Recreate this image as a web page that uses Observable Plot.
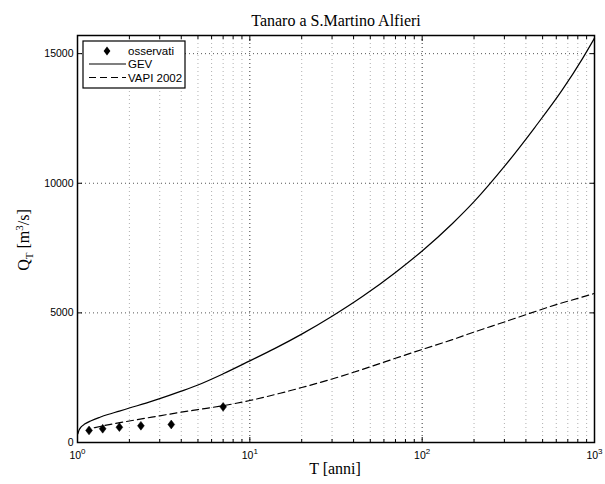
<!DOCTYPE html>
<html><head><meta charset="utf-8">
<script src="https://cdn.jsdelivr.net/npm/d3@7"></script>
<script src="https://cdn.jsdelivr.net/npm/@observablehq/plot@0.6"></script>
<style>body{margin:0;background:#fff}</style>
</head><body><div id="chart"></div>
<script>
// Observed (Weibull plotting positions)
const obsT = [1.1667, 1.4, 1.75, 2.333, 3.5, 7];
const obsQ = [465, 530, 590, 645, 695, 1375];
// GEV curve
const gevT = [1.005, 1.02, 1.05, 1.1, 1.2, 1.35, 1.5, 1.75, 2, 2.5, 3, 4, 5, 7, 10, 14, 20, 30, 45, 70, 100, 150, 200, 300, 450, 650, 850, 1000];
const gevQ = [330, 470, 600, 710, 840, 975, 1080, 1210, 1330, 1520, 1690, 1980, 2220, 2650, 3150, 3630, 4180, 4870, 5630, 6560, 7390, 8450, 9290, 10650, 12150, 13600, 14800, 15600];
// VAPI 2002 curve
const vapiT = [1.25, 1.5, 2, 3, 4, 5, 7, 10, 15, 20, 30, 50, 70, 100, 150, 200, 300, 425, 600, 800, 1000];
const vapiQ = [570, 680, 830, 1030, 1170, 1270, 1420, 1620, 1900, 2120, 2450, 2920, 3250, 3590, 3970, 4260, 4650, 4990, 5320, 5560, 5750];
// ticks
const xMajor = [1, 10, 100, 1000];
const xMinor = [2,3,4,5,6,7,8,9,20,30,40,50,60,70,80,90,200,300,400,500,600,700,800,900];
const yTicks = [0, 5000, 10000, 15000];
const yMax = 15700;
const titleText = "Tanaro a S.Martino Alfieri";
const xLabel = "T [anni]";
const legendLabels = ["osservati", "GEV", "VAPI 2002"];

const obs = obsT.map((t, i) => ({T: t, Q: obsQ[i]}));
const gev = gevT.map((t, i) => ({T: t, Q: gevQ[i]}));
const vapi = vapiT.map((t, i) => ({T: t, Q: vapiQ[i]}));

const mDiamond = {draw(ctx) { const w = 3.4, h = 4.4; ctx.moveTo(0, -h); ctx.lineTo(w, 0); ctx.lineTo(0, h); ctx.lineTo(-w, 0); ctx.closePath(); }};

const dots = "1,3";
const noText = () => "";
const chart = Plot.plot({
  width: 605, height: 484,
  marginLeft: 77, marginRight: 11, marginTop: 35, marginBottom: 42,
  style: {fontFamily: "'Liberation Sans', Arial, sans-serif", fontSize: "10.5px", background: "white", color: "black"},
  x: {type: "log", domain: [1, 1000]},
  y: {domain: [0, yMax]},
  marks: [
    Plot.ruleX(xMinor, {stroke: "#b0b0b0", strokeDasharray: dots}),
    Plot.ruleX([10, 100], {stroke: "#333", strokeDasharray: dots}),
    Plot.ruleY([5000, 10000, 15000], {stroke: "#555", strokeDasharray: dots}),
    // inward ticks
    Plot.axisX({anchor: "bottom", ticks: xMajor, tickSize: 5, dy: -5, tickFormat: noText, label: null}),
    Plot.axisX({anchor: "bottom", ticks: xMinor, tickSize: 3, dy: -3, tickFormat: noText, label: null}),
    Plot.axisX({anchor: "top", ticks: xMajor, tickSize: 5, dy: 5, tickFormat: noText, label: null}),
    Plot.axisX({anchor: "top", ticks: xMinor, tickSize: 3, dy: 3, tickFormat: noText, label: null}),
    Plot.axisY({anchor: "left", ticks: yTicks, tickSize: 5, dx: 5, tickFormat: noText, label: null}),
    Plot.axisY({anchor: "right", ticks: yTicks, tickSize: 5, dx: -5, tickFormat: noText, label: null}),
    // tick labels
    Plot.axisX({anchor: "bottom", ticks: xMajor, tickSize: 0, tickPadding: 9, tickFormat: d => String(Math.round(Math.log10(d))), label: null}),
    Plot.axisY({anchor: "left", ticks: yTicks, tickSize: 0, tickPadding: 4, tickFormat: d => String(d), label: null}),
    Plot.line(gev, {x: "T", y: "Q", stroke: "black", strokeWidth: 1.2, curve: "monotone-x"}),
    Plot.line(vapi, {x: "T", y: "Q", stroke: "black", strokeWidth: 1.2, strokeDasharray: "7,4", curve: "monotone-x"}),
    Plot.dot(obs, {x: "T", y: "Q", symbol: mDiamond, fill: "black", stroke: "black", strokeWidth: 0.5}),
    Plot.frame({stroke: "black", strokeWidth: 1.5})
  ]
});

const svg = d3.select(chart);
// superscript exponents on x tick labels
svg.selectAll("g[aria-label='x-axis tick label'] text").each(function() {
  const t = d3.select(this);
  const e = t.text();
  if (e === "") return;
  t.text("");
  t.append("tspan").text("10");
  t.append("tspan").attr("dy", "-5").attr("font-size", "8px").text(e);
});
const serif = "'Liberation Serif', 'Times New Roman', serif";
svg.append("text").attr("x", 336).attr("y", 26).attr("text-anchor", "middle")
  .attr("font-family", serif).attr("font-size", "16px").text(titleText);
svg.append("text").attr("x", 335).attr("y", 474).attr("text-anchor", "middle")
  .attr("font-family", serif).attr("font-size", "16px").text(xLabel);
const yl = svg.append("text").attr("transform", "translate(29,240) rotate(-90)").attr("text-anchor", "middle")
  .attr("font-family", serif).attr("font-size", "16px");
yl.append("tspan").text("Q");
yl.append("tspan").attr("dy", "4").attr("font-size", "11px").text("T");
yl.append("tspan").attr("dy", "-4").text(" [m");
yl.append("tspan").attr("dy", "-6").attr("font-size", "11px").text("3");
yl.append("tspan").attr("dy", "6").text("/s]");

// legend
const lg = svg.append("g");
lg.append("rect").attr("x", 83).attr("y", 41).attr("width", 102).attr("height", 47)
  .attr("fill", "white").attr("stroke", "black").attr("stroke-width", 1.2);
const rows = [51, 64, 77.5];
lg.append("path").attr("transform", `translate(107,${rows[0]})`).attr("d", d3.symbol(mDiamond)()).attr("fill", "black");
lg.append("line").attr("x1", 89).attr("x2", 126).attr("y1", rows[1]).attr("y2", rows[1]).attr("stroke", "black").attr("stroke-width", 1.2);
lg.append("line").attr("x1", 89).attr("x2", 126).attr("y1", rows[2]).attr("y2", rows[2]).attr("stroke", "black").attr("stroke-width", 1.2).attr("stroke-dasharray", "7,4");
legendLabels.forEach((s, i) => {
  lg.append("text").attr("x", 128).attr("y", rows[i]).attr("dy", "0.36em").attr("text-anchor", "start")
    .attr("font-family", "'Liberation Sans', Arial, sans-serif").attr("font-size", "11.5px").text(s);
});

document.getElementById("chart").appendChild(chart);
</script>
</body></html>
